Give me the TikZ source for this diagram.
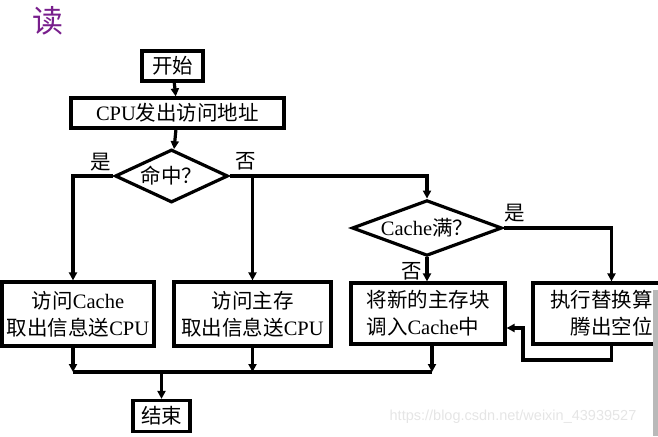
\documentclass[tikz,border=0pt]{standalone}
\usepackage{fontspec}
\setmainfont{Liberation Serif}
\newfontfamily\cjk{Noto Sans CJK SC}
\newfontfamily\wmfont{Liberation Sans}
\usetikzlibrary{shapes.geometric,arrows.meta}
\newcommand\zh[1]{{\cjk #1}}
\definecolor{titlepurple}{RGB}{120,30,140}
\begin{document}
\begin{tikzpicture}[x=1pt,y=-1pt,
  every node/.style={font=\fontsize{20.5}{27}\selectfont},
  box/.style={draw,line width=3.2pt,inner sep=0pt,align=center},
  dia/.style={draw,line width=3.2pt,diamond,inner sep=0pt,aspect=2.5},
  line/.style={line width=3.2pt},
  arr/.style={line width=3.2pt,-{Triangle[length=8pt,width=8pt]}},
  lbl/.style={inner sep=0pt}]
\useasboundingbox (0,0) rectangle (658,436);
\clip (0,0) rectangle (658,436);
\node[text=titlepurple,font=\fontsize{31}{31}\selectfont\cjk] (title) at (48,21) {读};

\node[box,minimum width=61pt,minimum height=30pt] (start) at (172.5,66) {\zh{开始}};
\node[box,minimum width=213pt,minimum height=30pt] (cpu) at (177.5,113) {CPU\zh{发出访问地址}};
\node[dia,minimum width=113pt,minimum height=53pt] (hit) at (171.5,176) {\zh{命中？}};
\node[dia,minimum width=150pt,minimum height=51pt] (full) at (427,228) {Cache\zh{满？}};

\node[box,minimum width=152pt,minimum height=64pt] (b1) at (78,314) {\zh{访问}Cache\\\zh{取出信息送}CPU};
\node[box,minimum width=157pt,minimum height=64pt] (b2) at (252.5,314) {\zh{访问主存}\\\zh{取出信息送}CPU};
\node[box,minimum width=154pt,minimum height=61pt,align=left] (b3) at (428,313.5) {\zh{将新的主存块}\\\zh{调入}Cache\zh{中}};
\node[box,minimum width=157pt,minimum height=61pt] (b4) at (611.5,313.5) {\zh{执行替换算法}\\\zh{腾出空位}};
\node[box,minimum width=57pt,minimum height=31pt] (end) at (161.5,416) {\zh{结束}};

\node[lbl] (yes1) at (101,162) {\zh{是}};
\node[lbl] (no1) at (246,161) {\zh{否}};
\node[lbl] (yes2) at (515,213) {\zh{是}};
\node[lbl] (no2) at (412,271) {\zh{否}};

\coordinate (m1) at (73,372);
\coordinate (m3) at (432,372);
\coordinate (fb1) at (523,360);
\coordinate (fb2) at (523,328);

\draw[arr] (start) -- (cpu);
\draw[arr] (cpu) -- (hit);
\draw[arr] (hit.west) -| (m1 |- b1.north);
\draw[arr] (hit.east) -| (full.north);
\draw[arr] (b2.north |- hit.east) -- (b2.north);
\draw[arr] (full.east) -| (b4.north);
\draw[arr] (full.south) -- (full.south |- b3.north);
\draw[arr] (b4.south) |- (fb1) -- (fb2) -- (b3.east |- fb2);
\draw[arr] (m1 |- b1.south) -- (m1);
\draw[arr] (b2.south) -- (b2.south |- m1);
\draw[arr] (m3 |- b3.south) -- (m3);
\draw[line] (m1) -- (m3);
\draw[arr] (end.north |- m1) -- (end.north);

\node[text=gray!20,font=\fontsize{14.5}{15}\wmfont] (wm) at (513,417) {https://blog.csdn.net/weixin\_43939527};
\fill[gray!55] (653,290) rectangle (658,436);
\end{tikzpicture}
\end{document}
